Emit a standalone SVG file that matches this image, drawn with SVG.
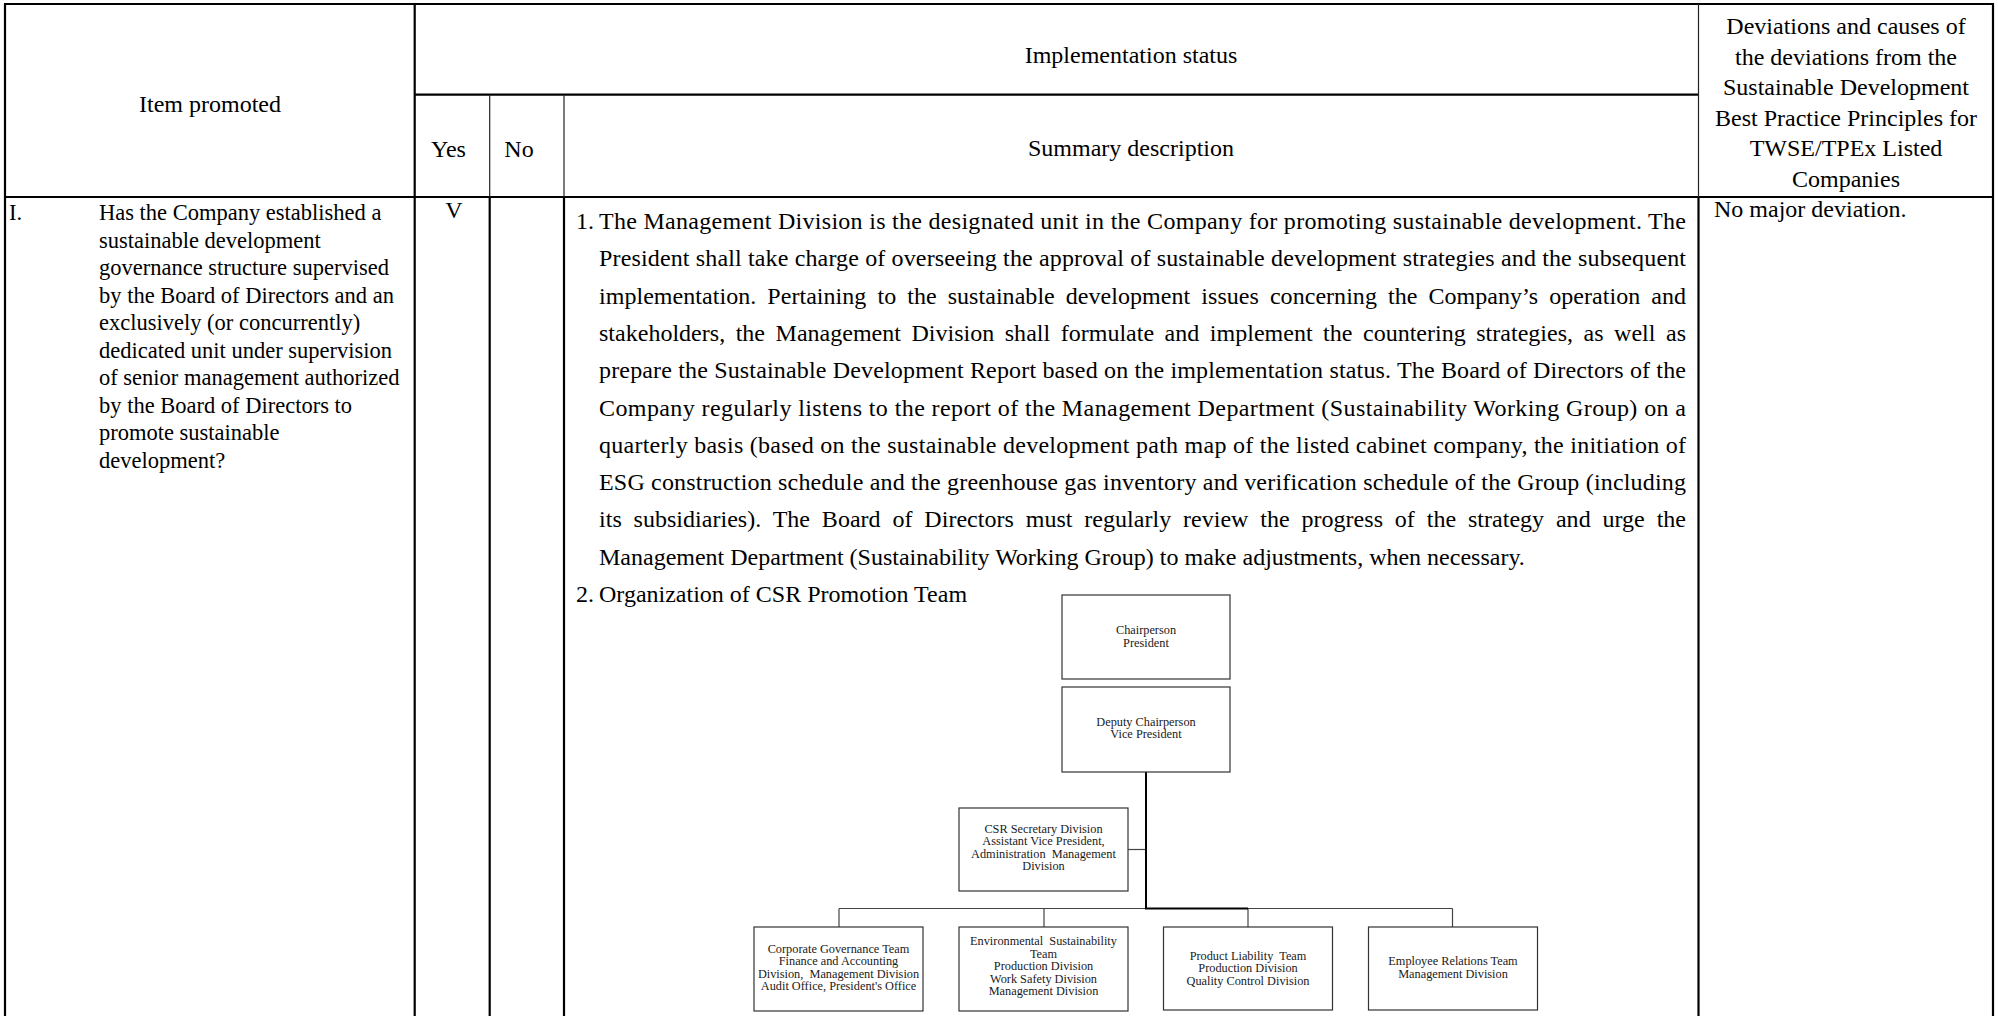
<svg xmlns="http://www.w3.org/2000/svg" width="1998" height="1016" viewBox="0 0 1998 1016">
  <style>
    .t { font-family: "Liberation Serif", "Times New Roman", serif; fill: #000; }
    .h { font-size: 24px; }
    .c { text-anchor: middle; }
    .i { font-size: 22.5px; }
    .o { font-family: "Liberation Serif", "Times New Roman", serif; font-size: 12.3px; fill: #1a1a1a; text-anchor: middle; white-space: pre; }
    .thick { stroke: #000; stroke-width: 2.2; fill: none; }
    .thin { stroke: #222; stroke-width: 1.2; fill: none; }
    .box { fill: #fff; stroke: #333; stroke-width: 1.2; }
    .wire { stroke: #444; stroke-width: 1.2; fill: none; }
    .trunk { stroke: #000; stroke-width: 2; fill: none; }
  </style>
  <rect width="1998" height="1016" fill="#fff"/>

  <!-- table rules -->
  <g id="table-grid">
    <line class="thick" x1="4" y1="4" x2="1994" y2="4"/>
    <line class="thick" x1="5" y1="4" x2="5" y2="1016"/>
    <line class="thick" x1="1993" y1="4" x2="1993" y2="1016"/>
    <line class="thick" x1="414.7" y1="4" x2="414.7" y2="1016"/>
    <line class="thick" x1="414.7" y1="94.7" x2="1698.5" y2="94.7"/>
    <line class="thick" x1="5" y1="197" x2="1993" y2="197"/>
    <line class="thin" x1="489.7" y1="94.7" x2="489.7" y2="197"/>
    <line class="thin" x1="564" y1="94.7" x2="564" y2="197"/>
    <line class="thin" x1="1698.5" y1="4" x2="1698.5" y2="197"/>
    <line class="thick" x1="489.7" y1="197" x2="489.7" y2="1016"/>
    <line class="thick" x1="564" y1="197" x2="564" y2="1016"/>
    <line class="thick" x1="1698.5" y1="197" x2="1698.5" y2="1016"/>
  </g>

  <!-- header cells -->
  <g id="header">
    <text class="t h c" x="210" y="112">Item promoted</text>
    <text class="t h c" x="1131" y="63">Implementation status</text>
    <text class="t h c" x="448.5" y="157">Yes</text>
    <text class="t h c" x="519" y="157">No</text>
    <text class="t h c" x="1131" y="156">Summary description</text>
    <text class="t h c" x="1846" y="34">Deviations and causes of</text>
    <text class="t h c" x="1846" y="64.5">the deviations from the</text>
    <text class="t h c" x="1846" y="95">Sustainable Development</text>
    <text class="t h c" x="1846" y="125.5">Best Practice Principles for</text>
    <text class="t h c" x="1846" y="156">TWSE/TPEx Listed</text>
    <text class="t h c" x="1846" y="186.5">Companies</text>
  </g>

  <!-- item column -->
  <g id="item-text" class="t i">
    <text x="9" y="220">I.</text>
    <text x="99" y="220">Has the Company established a</text>
    <text x="99" y="247.5">sustainable development</text>
    <text x="99" y="275">governance structure supervised</text>
    <text x="99" y="302.5">by the Board of Directors and an</text>
    <text x="99" y="330">exclusively (or concurrently)</text>
    <text x="99" y="357.5">dedicated unit under supervision</text>
    <text x="99" y="385">of senior management authorized</text>
    <text x="99" y="412.5">by the Board of Directors to</text>
    <text x="99" y="440">promote sustainable</text>
    <text x="99" y="467.5">development?</text>
  </g>

  <g id="yes-mark">
    <text class="t h c" x="454" y="218">V</text>
  </g>

  <!-- summary description -->
  <g id="summary-text" class="t h">
    <text x="576" y="229">1.</text>
    <text x="599" y="229" textLength="1087" lengthAdjust="spacing">The Management Division is the designated unit in the Company for promoting sustainable development. The</text>
    <text x="599" y="266.3" textLength="1087" lengthAdjust="spacing">President shall take charge of overseeing the approval of sustainable development strategies and the subsequent</text>
    <text x="599" y="303.6" textLength="1087" lengthAdjust="spacing" word-spacing="5">implementation. Pertaining to the sustainable development issues concerning the Company’s operation and</text>
    <text x="599" y="340.9" textLength="1087" lengthAdjust="spacing" word-spacing="4.5">stakeholders, the Management Division shall formulate and implement the countering strategies, as well as</text>
    <text x="599" y="378.2" textLength="1087" lengthAdjust="spacing">prepare the Sustainable Development Report based on the implementation status. The Board of Directors of the</text>
    <text x="599" y="415.5" textLength="1087" lengthAdjust="spacing">Company regularly listens to the report of the Management Department (Sustainability Working Group) on a</text>
    <text x="599" y="452.8" textLength="1087" lengthAdjust="spacing">quarterly basis (based on the sustainable development path map of the listed cabinet company, the initiation of</text>
    <text x="599" y="490.1" textLength="1087" lengthAdjust="spacing">ESG construction schedule and the greenhouse gas inventory and verification schedule of the Group (including</text>
    <text x="599" y="527.4" textLength="1087" lengthAdjust="spacing" word-spacing="5.8">its subsidiaries). The Board of Directors must regularly review the progress of the strategy and urge the</text>
    <text x="599" y="564.7">Management Department (Sustainability Working Group) to make adjustments, when necessary.</text>
    <text x="576" y="602">2.</text>
    <text x="599" y="602">Organization of CSR Promotion Team</text>
  </g>

  <g id="deviation-text">
    <text class="t h" x="1714" y="217">No major deviation.</text>
  </g>

  <!-- organisation chart connectors -->
  <g id="connectors">
    <path class="wire" d="M1128 849.5 H1146"/>
    <path class="wire" d="M839 908.5 H1452.5"/>
    <path class="wire" d="M839 908.5 V927 M1044 908.5 V927 M1248 908.5 V927 M1452.5 908.5 V927"/>
    <path class="trunk" d="M1146 772 V909.5 M1146 908.5 H1248"/>
  </g>

  <!-- organisation chart nodes -->
  <g id="node-chairperson">
    <rect class="box" x="1062" y="595" width="168" height="84"/>
    <text class="o" x="1146" y="634">Chairperson</text>
    <text class="o" x="1146" y="646.5">President</text>
  </g>
  <g id="node-deputy">
    <rect class="box" x="1062" y="687" width="168" height="85"/>
    <text class="o" x="1146" y="725.5">Deputy Chairperson</text>
    <text class="o" x="1146" y="738">Vice President</text>
  </g>
  <g id="node-csr-secretary">
    <rect class="box" x="959" y="808" width="169" height="83"/>
    <text class="o" x="1043.5" y="833">CSR Secretary Division</text>
    <text class="o" x="1043.5" y="845.3">Assistant Vice President,</text>
    <text class="o" x="1043.5" y="857.6">Administration  Management</text>
    <text class="o" x="1043.5" y="870">Division</text>
  </g>
  <g id="node-governance">
    <rect class="box" x="754" y="927" width="169" height="84"/>
    <text class="o" x="838.5" y="952.5">Corporate Governance Team</text>
    <text class="o" x="838.5" y="965">Finance and Accounting</text>
    <text class="o" x="838.5" y="977.5">Division,  Management Division</text>
    <text class="o" x="838.5" y="990">Audit Office, President's Office</text>
  </g>
  <g id="node-environment">
    <rect class="box" x="959" y="927" width="169" height="84"/>
    <text class="o" x="1043.5" y="945">Environmental  Sustainability</text>
    <text class="o" x="1043.5" y="957.5">Team</text>
    <text class="o" x="1043.5" y="970">Production Division</text>
    <text class="o" x="1043.5" y="982.5">Work Safety Division</text>
    <text class="o" x="1043.5" y="995">Management Division</text>
  </g>
  <g id="node-product">
    <rect class="box" x="1163.5" y="927" width="169" height="83"/>
    <text class="o" x="1248" y="959.5">Product Liability  Team</text>
    <text class="o" x="1248" y="972">Production Division</text>
    <text class="o" x="1248" y="984.5">Quality Control Division</text>
  </g>
  <g id="node-employee">
    <rect class="box" x="1368.5" y="927" width="169" height="83"/>
    <text class="o" x="1453" y="965">Employee Relations Team</text>
    <text class="o" x="1453" y="977.5">Management Division</text>
  </g>
</svg>
